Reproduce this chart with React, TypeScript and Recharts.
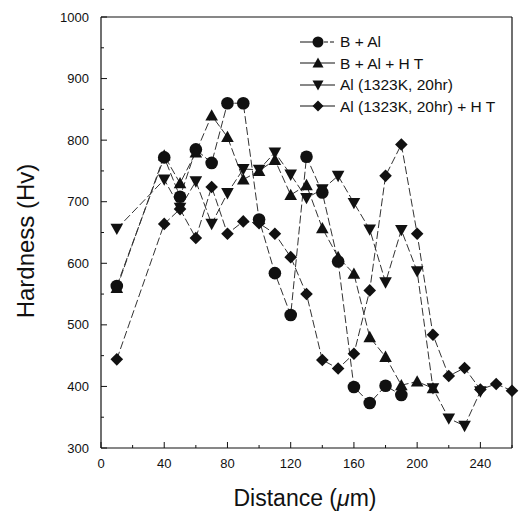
import { LineChart, Line, XAxis, YAxis, ReferenceLine, Legend } from "recharts";

// Microhardness profiles (Hv vs depth in µm).
const distance = [10, 40, 50, 60, 70, 80, 90, 100, 110, 120, 130, 140, 150, 160, 170, 180, 190, 200, 210, 220, 230, 240, 250, 260];
const bAl = [563, 772, 708, 785, 763, 860, 860, 671, 584, 516, 773, 715, 603, 399, 373, 401, 386, null, null, null, null, null, null, null];
const bAlHt = [560, 775, 730, 780, 840, 805, 736, 750, 768, 711, 727, 657, 610, 583, 480, 448, 402, 408, 397, null, null, null, null, null];
const alOnly = [656, 736, 690, 733, 664, 714, 753, 752, 780, 744, 706, 720, 742, 698, 655, 569, 654, 587, 397, 348, 336, 392, null, null];
const alHt = [444, 664, 688, 641, 724, 648, 668, 665, 648, 610, 550, 443, 429, 453, 556, 742, 793, 648, 484, 417, 430, 395, 404, 393];

const xTicks = [0, 20, 40, 60, 80, 100, 120, 140, 160, 180, 200, 220, 240, 260];
const yTicks = [300, 350, 400, 450, 500, 550, 600, 650, 700, 750, 800, 850, 900, 950, 1000];

const seriesNames = ["B + Al", "B + Al + H T", "Al (1323K, 20hr)", "Al (1323K, 20hr) + H T"];
const seriesKeys = ["bAl", "bAlHt", "alOnly", "alHt"];
const seriesShapes = ["circle", "up", "down", "diamond"];

const data = distance.map((d, i) => ({
  distance: d,
  bAl: bAl[i],
  bAlHt: bAlHt[i],
  alOnly: alOnly[i],
  alHt: alHt[i],
}));

const FONT = "'Liberation Sans', Arial, Helvetica, sans-serif";
const INK = "#111";
const LINE = "#333";

function Marker({ shape, cx, cy, s = 6.3 }: { shape: string; cx: number; cy: number; s?: number }) {
  if (shape === "circle") return <circle cx={cx} cy={cy} r={s} fill={INK} />;
  if (shape === "up")
    return <polygon points={`${cx},${cy - s} ${cx + s},${cy + s * 0.8} ${cx - s},${cy + s * 0.8}`} fill={INK} />;
  if (shape === "down")
    return <polygon points={`${cx},${cy + s} ${cx + s},${cy - s * 0.8} ${cx - s},${cy - s * 0.8}`} fill={INK} />;
  return <polygon points={`${cx},${cy - s} ${cx + s},${cy} ${cx},${cy + s} ${cx - s},${cy}`} fill={INK} />;
}

const makeDot = (shape: string) => (props: any) => {
  const { cx, cy, index, value } = props;
  if (cx == null || cy == null || value == null) return <g key={`${shape}-${index}`} />;
  return (
    <g key={`${shape}-${index}`}>
      <Marker shape={shape} cx={cx} cy={cy} />
    </g>
  );
};

function XTick({ x, y, payload }: any) {
  const v = payload.value;
  const major = v % 40 === 0;
  return (
    <g>
      <line x1={x} x2={x} y1={y} y2={y - (major ? 6 : 3)} stroke={INK} />
      {major && (
        <text x={x} y={y + 20} textAnchor="middle" fontSize={13} fontFamily={FONT} fill={INK}>
          {v}
        </text>
      )}
    </g>
  );
}

function YTick({ x, y, payload }: any) {
  const v = payload.value;
  const major = v % 100 === 0;
  return (
    <g>
      <line x1={x} x2={x + (major ? 6 : 3)} y1={y} y2={y} stroke={INK} />
      {major && (
        <text x={x - 12} y={y + 4.5} textAnchor="end" fontSize={13} fontFamily={FONT} fill={INK}>
          {v}
        </text>
      )}
    </g>
  );
}

function LegendBox() {
  return (
    <div style={{ fontFamily: FONT, fontSize: 15.5, color: INK }}>
      {seriesNames.map((name, i) => (
        <div key={name} style={{ display: "flex", alignItems: "center", height: 21.5 }}>
          <svg width={40} height={16} style={{ display: "block" }}>
            <line x1={2} x2={20} y1={8} y2={8} stroke={INK} />
            <line x1={20} x2={37} y1={8} y2={8} stroke={INK} strokeDasharray={i === 0 ? "4 2" : undefined} />
            <Marker shape={seriesShapes[i]} cx={20} cy={8} s={5.5} />
          </svg>
          <span style={{ marginLeft: 2, whiteSpace: "nowrap", lineHeight: 1 }}>{name}</span>
        </div>
      ))}
    </div>
  );
}

export default function App() {
  return (
    <div style={{ position: "absolute", left: 0, top: 0, background: "#fff" }}>
      <LineChart width={523} height={514} data={data} margin={{ top: 17, right: 11, bottom: 0, left: 0 }}>
        <XAxis
          dataKey="distance"
          type="number"
          domain={[0, 260]}
          ticks={xTicks}
          interval={0}
          height={66}
          tickSize={0}
          tickMargin={0}
          tick={<XTick />}
          tickLine={false}
          axisLine={{ stroke: INK, strokeWidth: 1.2 }}
          label={{
            content: () => (
              <text x={305} y={506} textAnchor="middle" fontSize={23} fontFamily={FONT} fill={INK}>
                Distance (<tspan fontStyle="italic">μ</tspan>m)
              </text>
            ),
          }}
        />
        <YAxis
          type="number"
          domain={[300, 1000]}
          ticks={yTicks}
          interval={0}
          width={101}
          tickSize={0}
          tickMargin={0}
          tick={<YTick />}
          tickLine={false}
          axisLine={{ stroke: INK, strokeWidth: 1.2 }}
          label={{
            content: () => (
              <text
                transform="translate(34,241) rotate(-90)"
                textAnchor="middle"
                fontSize={24}
                fontFamily={FONT}
                fill={INK}
              >
                Hardness (Hv)
              </text>
            ),
          }}
        />
        <ReferenceLine y={1000} stroke={INK} strokeWidth={1.2} />
        <ReferenceLine x={260} stroke={INK} strokeWidth={1.2} />
        <Legend
          layout="vertical"
          align="center"
          verticalAlign="middle"
          content={() => <LegendBox />}
          wrapperStyle={{ left: 298, top: 31, width: "auto", height: "auto" }}
        />
        {seriesKeys.map((k, i) => (
          <Line
            key={k}
            dataKey={k}
            name={seriesNames[i]}
            type="linear"
            stroke={LINE}
            strokeWidth={1}
            strokeDasharray="8 3"
            dot={makeDot(seriesShapes[i])}
            activeDot={false}
            isAnimationActive={false}
          />
        ))}
      </LineChart>
    </div>
  );
}
